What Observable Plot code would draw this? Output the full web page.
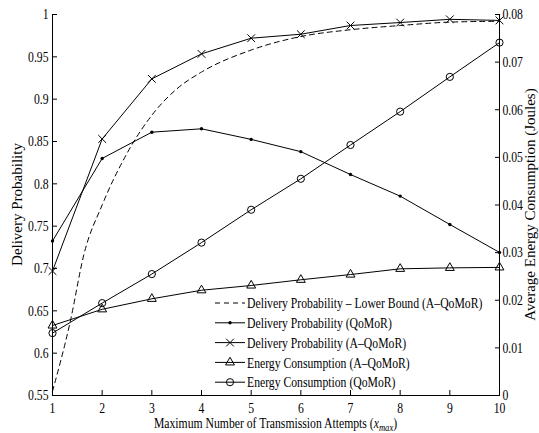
<!DOCTYPE html>
<html><head><meta charset="utf-8">
<script src="https://cdn.jsdelivr.net/npm/d3@7"></script>
<script src="https://cdn.jsdelivr.net/npm/@observablehq/plot@0.6"></script>
<style>html,body{margin:0;padding:0;background:#fff} svg{display:block}</style>
</head><body><div id="chart"></div>
<script>
// ---- data ----
const xmax = [1, 2, 3, 4, 5, 6, 7, 8, 9, 10];
const lbX = [1, 1.36, 1.63, 2, 2.5, 3, 3.5, 4, 5, 6, 7, 8, 9, 10];
const lowerBound = [0.555, 0.638, 0.716, 0.775, 0.836, 0.881, 0.912, 0.932, 0.958, 0.974, 0.982, 0.987, 0.991, 0.992];
const delivQoMoR = [0.7325, 0.830, 0.861, 0.865, 0.8525, 0.838, 0.811, 0.7855, 0.752, 0.719];
const delivAQoMoR = [0.697, 0.853, 0.924, 0.9535, 0.972, 0.9767, 0.987, 0.9905, 0.9943, 0.993];
const energyAQoMoR = [0.0147, 0.0181, 0.0203, 0.0221, 0.0231, 0.0243, 0.0254, 0.0266, 0.0268, 0.0269];
const energyQoMoR = [0.0131, 0.0194, 0.0255, 0.0321, 0.0390, 0.0455, 0.0526, 0.0596, 0.0669, 0.0741];
const leftTicks = [0.55, 0.6, 0.65, 0.7, 0.75, 0.8, 0.85, 0.9, 0.95, 1];
const rightTicks = [0, 0.01, 0.02, 0.03, 0.04, 0.05, 0.06, 0.07, 0.08];
const legendLabels = [
  "Delivery Probability \u2013 Lower Bound (A\u2013QoMoR)",
  "Delivery Probability (QoMoR)",
  "Delivery Probability (A\u2013QoMoR)",
  "Energy Consumption (A\u2013QoMoR)",
  "Energy Consumption (QoMoR)"
];
const xTitle = "Maximum Number of Transmission Attempts (";
const yLeftTitle = "Delivery Probability";
const yRightTitle = "Average Energy Consumption (Joules)";

// ---- helpers ----
const Y0 = 0.55, Y1 = 1, E1 = 0.08;
const toY = e => Y0 + e / E1 * (Y1 - Y0);
const fromY = y => (y - Y0) / (Y1 - Y0) * E1;
const fmt = d => String(+(+d).toFixed(2));
const FONT = "Liberation Serif, Times New Roman, serif";
const SX = 0.78;

const lbTable = lbX.map((x, i) => ({x, y: lowerBound[i]}));
const table = xmax.map((x, i) => ({
  x, dq: delivQoMoR[i], da: delivAQoMoR[i],
  ea: toY(energyAQoMoR[i]), eq: toY(energyQoMoR[i])
}));

const W = 539, H = 433;
const mL = 52, mR = 40, mT = 14, mB = 38;

const plot = Plot.plot({
  width: W, height: H,
  marginLeft: mL, marginRight: mR, marginTop: mT, marginBottom: mB,
  x: {domain: [1, 10]},
  y: {domain: [Y0, Y1]},
  style: {fontFamily: FONT, fontSize: "15px", color: "#000", background: "#fff"},
  marks: [
    Plot.ruleX([1, 10], {stroke: "#000", strokeWidth: 1}),
    Plot.ruleY([Y0], {stroke: "#000", strokeWidth: 1}),
    Plot.axisX(xmax, {anchor: "bottom", tickSize: -5, tickPadding: 12, label: null, tickFormat: d => String(d)}),
    Plot.axisY(leftTicks, {anchor: "left", tickSize: -5, tickPadding: 9, label: null, tickFormat: fmt}),
    Plot.axisY(rightTicks.map(toY), {anchor: "right", tickSize: -5, tickPadding: 8, label: null, tickFormat: d => fmt(fromY(d))}),
    Plot.line(lbTable, {x: "x", y: "y", curve: "monotone-x", stroke: "#000", strokeWidth: 1, strokeDasharray: "5,4"}),
    Plot.line(table, {x: "x", y: "dq", stroke: "#000", strokeWidth: 1}),
    Plot.line(table, {x: "x", y: "da", stroke: "#000", strokeWidth: 1}),
    Plot.line(table, {x: "x", y: "ea", stroke: "#000", strokeWidth: 1}),
    Plot.line(table, {x: "x", y: "eq", stroke: "#000", strokeWidth: 1}),
    Plot.dot(table, {x: "x", y: "dq", r: 1.7, fill: "#000", stroke: "none"}),
    Plot.dot(table, {x: "x", y: "da", symbol: "times", r: 3.6, stroke: "#000", strokeWidth: 1}),
    Plot.dot(table, {x: "x", y: "ea", symbol: "triangle", r: 3.3, stroke: "#000", fill: "none", strokeWidth: 1}),
    Plot.dot(table, {x: "x", y: "eq", symbol: "circle", r: 3.6, stroke: "#000", fill: "none", strokeWidth: 1})
  ]
});
document.getElementById("chart").appendChild(plot);

const svg = d3.select(plot);
// condense horizontal text like the reference
svg.selectAll('g[aria-label$="tick label"] text').each(function() {
  const t = this.getAttribute("transform") || "";
  this.setAttribute("transform", t + ` scale(${SX},1)`);
});

// axis titles
const xt = svg.append("text")
  .attr("transform", `translate(${(mL + W - mR) / 2},428) scale(${SX},1)`)
  .attr("text-anchor", "middle").attr("font-family", FONT).attr("font-size", 15).attr("fill", "#000");
xt.append("tspan").text(xTitle);
xt.append("tspan").attr("font-style", "italic").text("x");
xt.append("tspan").attr("font-style", "italic").attr("font-size", 11).attr("dy", 3).text("max");
xt.append("tspan").attr("dy", -3).text(")");

svg.append("text")
  .attr("transform", `translate(22,${(mT + H - mB) / 2}) rotate(-90)`)
  .attr("text-anchor", "middle").attr("font-family", FONT).attr("font-size", 15).attr("fill", "#000")
  .text(yLeftTitle);
svg.append("text")
  .attr("transform", `translate(535,${(mT + H - mB) / 2}) rotate(-90)`)
  .attr("text-anchor", "middle").attr("font-family", FONT).attr("font-size", 15).attr("fill", "#000")
  .text(yRightTitle);

// legend
const lg = svg.append("g").attr("font-family", FONT).attr("font-size", 15).attr("text-anchor", "start");
const rowY0 = 303, rowDY = 19.8, lx0 = 215, lx1 = 245, lxm = 230, tx = 247;
const styles = [
  {dash: "5,4", sym: null},
  {dash: null, sym: "dot"},
  {dash: null, sym: d3.symbolTimes, r: 3.6},
  {dash: null, sym: d3.symbolTriangle, r: 3.3},
  {dash: null, sym: d3.symbolCircle, r: 3.6}
];
legendLabels.forEach((lab, i) => {
  const y = rowY0 + i * rowDY;
  const s = styles[i];
  lg.append("line").attr("x1", lx0).attr("x2", lx1).attr("y1", y).attr("y2", y)
    .attr("stroke", "#000").attr("stroke-width", 1).attr("stroke-dasharray", s.dash);
  if (s.sym === "dot") {
    lg.append("circle").attr("cx", lxm).attr("cy", y).attr("r", 1.7).attr("fill", "#000");
  } else if (s.sym) {
    lg.append("path").attr("transform", `translate(${lxm},${y})`)
      .attr("d", d3.symbol(s.sym, s.r * s.r * Math.PI)())
      .attr("fill", "none").attr("stroke", "#000").attr("stroke-width", 1);
  }
  lg.append("text").attr("transform", `translate(${tx},${y}) scale(${SX},1)`)
    .attr("dy", "0.35em").attr("text-anchor", "start").attr("fill", "#000").text(lab);
});
</script>
</body></html>
